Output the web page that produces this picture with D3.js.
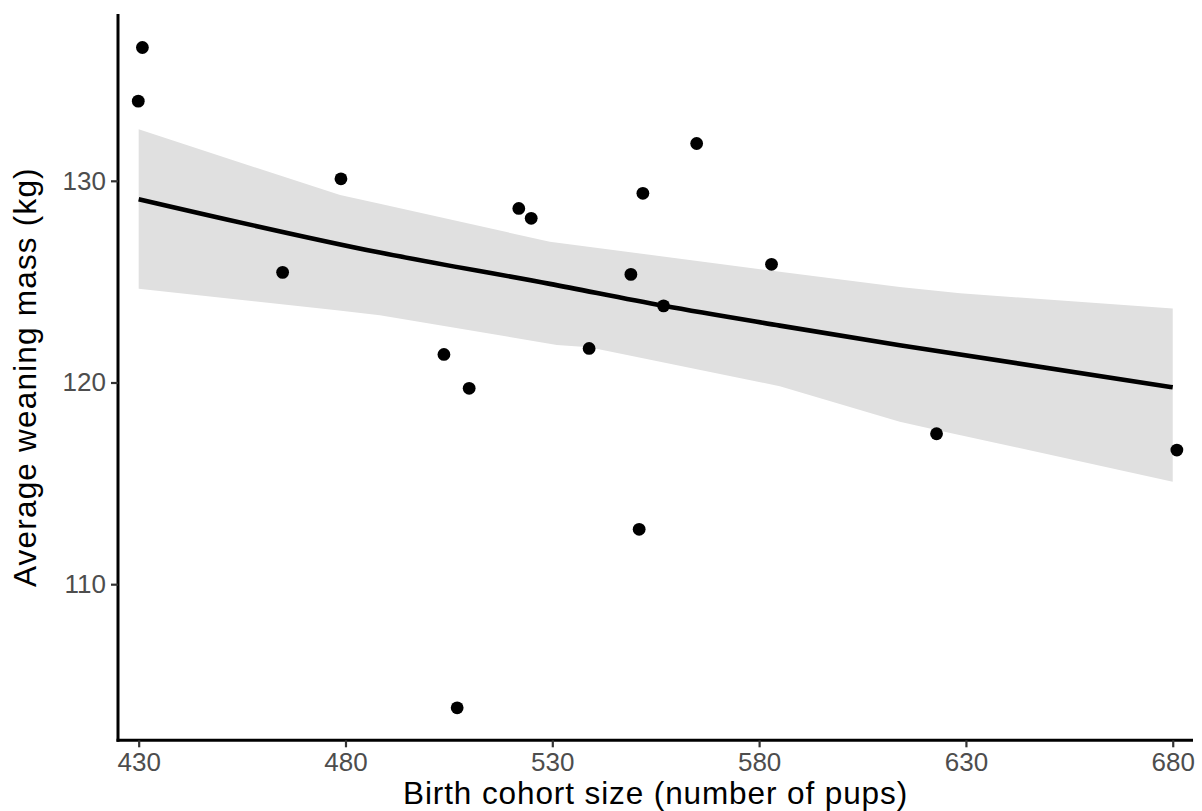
<!DOCTYPE html>
<html>
<head>
<meta charset="utf-8">
<script src="https://cdn.jsdelivr.net/npm/d3@7"></script>
<style>
  html, body { margin: 0; padding: 0; background: #ffffff; }
  svg { display: block; }
</style>
</head>
<body>
<script>
// Birth cohort size vs. average weaning mass, one point per cohort
const cohortSize = [429.9, 430.9, 464.8, 478.9, 503.8, 507.0, 509.9, 521.9, 524.9,
                    538.9, 549.0, 551.0, 551.9, 556.9, 564.9, 583.0, 622.9, 681.0];
const weaningMass = [133.95, 136.61, 125.46, 130.10, 121.39, 103.87, 119.71, 128.63, 128.14,
                     121.69, 125.36, 112.72, 129.38, 123.80, 131.85, 125.86, 117.46, 116.65];

// Fitted trend and its confidence band
const fitX = [430, 488.3, 529.4, 556.9, 585, 614, 680];
const fitY = [129.09, 126.44, 124.89, 123.80, 122.82, 121.85, 119.76];
const bandUpperX = [430, 478.7, 488.3, 529.4, 585, 614, 628.6, 680];
const bandUpper = [132.55, 129.29, 128.86, 126.98, 125.49, 124.74, 124.42, 123.67];
const bandLowerX = [430, 477.9, 488.3, 531.1, 538.9, 585, 614, 622.9, 680];
const bandLower = [124.65, 123.58, 123.34, 121.86, 121.75, 119.82, 118.05, 117.65, 115.08];

// Axis ticks
const xTicks = [430, 480, 530, 580, 630, 680];
const yTicks = [110, 120, 130];

const W = 1202, H = 811;
const panel = { left: 118, right: 1193, top: 14, bottom: 740.3 };

const svg = d3.select("body").append("svg")
  .attr("width", W).attr("height", H);

const x = d3.scaleLinear().domain([425.0, 684.9]).range([panel.left, panel.right]);
const y = d3.scaleLinear().domain([102.26, 138.27]).range([panel.bottom, panel.top]);

const font = "'Liberation Sans', Arial, sans-serif";

// Confidence band polygon: upper edge left-to-right, lower edge right-to-left
const upperPts = bandUpperX.map((v, i) => [x(v), y(bandUpper[i])]);
const lowerPts = bandLowerX.map((v, i) => [x(v), y(bandLower[i])]).reverse();
svg.append("path")
  .attr("d", d3.line()(upperPts.concat(lowerPts)) + "Z")
  .attr("fill", "#e0e0e0")
  .attr("stroke", "none");

// Fitted line
svg.append("path")
  .datum(fitX.map((v, i) => [v, fitY[i]]))
  .attr("d", d3.line().x(d => x(d[0])).y(d => y(d[1])).curve(d3.curveMonotoneX))
  .attr("fill", "none")
  .attr("stroke", "#000")
  .attr("stroke-width", 4.6);

// Points
svg.append("g").selectAll("circle")
  .data(cohortSize.map((v, i) => ({ x: v, y: weaningMass[i] })))
  .join("circle")
  .attr("cx", d => x(d.x))
  .attr("cy", d => y(d.y))
  .attr("r", 6.4)
  .attr("fill", "#000");

// X axis
const xAxis = svg.append("g")
  .attr("transform", `translate(0,${panel.bottom})`)
  .call(d3.axisBottom(x).tickValues(xTicks).tickSize(7).tickPadding(5).tickSizeOuter(0));
xAxis.select(".domain").attr("stroke", "#000").attr("stroke-width", 3)
  .attr("d", `M${panel.left - 1.5},0H${panel.right}`);
xAxis.selectAll(".tick line").attr("stroke", "#333").attr("stroke-width", 2.2);
xAxis.selectAll(".tick text")
  .attr("font-family", font).attr("font-size", 26).attr("fill", "#4d4d4d")
  .attr("dy", "0.71em");

// Y axis
const yAxis = svg.append("g")
  .attr("transform", `translate(${panel.left},0)`)
  .call(d3.axisLeft(y).tickValues(yTicks).tickSize(7).tickPadding(5).tickSizeOuter(0));
yAxis.select(".domain").attr("stroke", "#000").attr("stroke-width", 3)
  .attr("d", `M0,${panel.top}V${panel.bottom + 1.5}`);
yAxis.selectAll(".tick line").attr("stroke", "#333").attr("stroke-width", 2.2);
yAxis.selectAll(".tick text")
  .attr("font-family", font).attr("font-size", 26).attr("fill", "#4d4d4d");

// Axis titles
svg.append("text")
  .attr("x", (panel.left + panel.right) / 2)
  .attr("y", 804)
  .attr("text-anchor", "middle")
  .attr("font-family", font).attr("font-size", 31.5).attr("letter-spacing", 0.9)
  .attr("fill", "#000")
  .text("Birth cohort size (number of pups)");

svg.append("text")
  .attr("transform", `translate(36,${(panel.top + panel.bottom) / 2}) rotate(-90)`)
  .attr("text-anchor", "middle")
  .attr("font-family", font).attr("font-size", 31.5).attr("letter-spacing", 1.2)
  .attr("fill", "#000")
  .text("Average weaning mass (kg)");
</script>
</body>
</html>
